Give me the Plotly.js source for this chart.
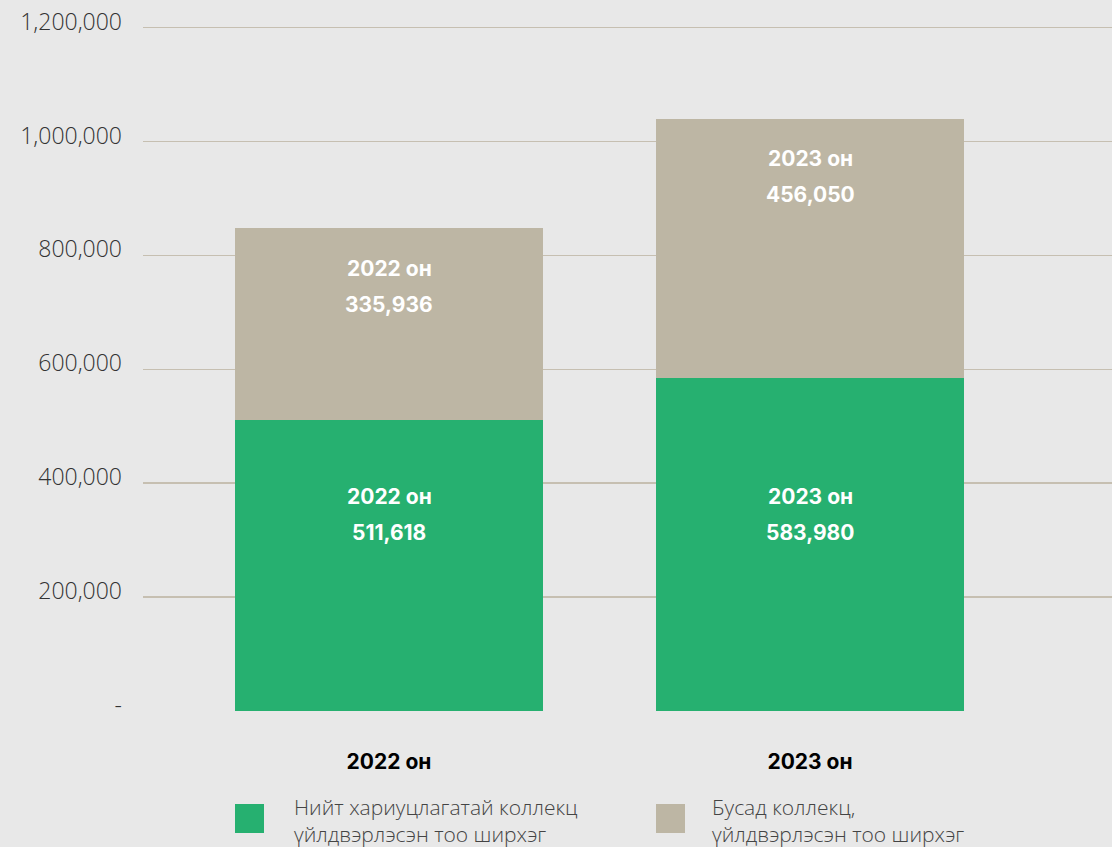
<!DOCTYPE html>
<html>
<head>
<meta charset="utf-8">
<script src="https://cdn.plot.ly/plotly-3.0.1.min.js"></script>
<style>
  html, body { margin: 0; padding: 0; background: #e8e8e8; }
  #chart { width: 1112px; height: 847px; }
</style>
</head>
<body>
<div id="chart"></div>
<script>
// ---- data ----
const categories = ['2022 он', '2023 он'];
const greenValues = [511618, 583980];
const beigeValues = [335936, 456050];
const seriesNames = ['Нийт хариуцлагатай коллекц үйлдвэрлэсэн тоо ширхэг', 'Бусад коллекц, үйлдвэрлэсэн тоо ширхэг'];
const legendLines = [
  ['Нийт хариуцлагатай коллекц', 'үйлдвэрлэсэн тоо ширхэг'],
  ['Бусад коллекц,', 'үйлдвэрлэсэн тоо ширхэг']
];
const yTickVals = [0, 200000, 400000, 600000, 800000, 1000000, 1200000];
const yTickText = ['-', '200,000', '400,000', '600,000', '800,000', '1,000,000', '1,200,000'];

// ---- style ----
const GREEN = '#26b070';
const BEIGE = '#bdb6a4';
const GRID = '#c6bfb1';
const FONT = 'Inter, "Open Sans", "DejaVu Sans", sans-serif';
const LIGHT_FONT = '"Open Sans", Lato, Inter, sans-serif';
const colors = [GREEN, BEIGE];

const fmt = v => v.toLocaleString('en-US');

const traces = [
  { type: 'bar', x: categories, y: greenValues, name: seriesNames[0],
    marker: { color: GREEN, line: { width: 0 } }, width: 0.732, hoverinfo: 'skip', showlegend: false },
  { type: 'bar', x: categories, y: beigeValues, name: seriesNames[1],
    marker: { color: BEIGE, line: { width: 0 } }, width: 0.732, hoverinfo: 'skip', showlegend: false }
];

const PH = 686;   // plot height in px
const BASE = 711; // pixel row of y = 0
const annotations = [];
const labelFont = { family: FONT, size: 21, color: '#ffffff', weight: 700 };
categories.forEach((c, i) => {
  annotations.push({ x: c, xref: 'x', y: (BASE - 496) / PH, yref: 'paper', text: c, showarrow: false, font: labelFont, yanchor: 'middle' });
  annotations.push({ x: c, xref: 'x', y: (BASE - 532) / PH, yref: 'paper', text: fmt(greenValues[i]), showarrow: false, font: labelFont, yanchor: 'middle' });
  const total = greenValues[i] + beigeValues[i];
  annotations.push({ x: c, xref: 'x', y: total, yref: 'y', yshift: -40, text: c, showarrow: false, font: labelFont, yanchor: 'middle' });
  annotations.push({ x: c, xref: 'x', y: total, yref: 'y', yshift: -76, text: fmt(beigeValues[i]), showarrow: false, font: labelFont, yanchor: 'middle' });
});

// custom legend
const shapes = [];
const legendX = [235, 656];
const legendTextX = [292, 710];
legendLines.forEach((lines, i) => {
  shapes.push({ type: 'rect', xref: 'paper', yref: 'paper',
    x0: (legendX[i] - 143) / 969, x1: (legendX[i] + 29 - 143) / 969,
    y0: (BASE - 833) / PH, y1: (BASE - 804) / PH,
    fillcolor: colors[i], line: { width: 0 } });
  lines.forEach((t, j) => {
    annotations.push({ xref: 'paper', yref: 'paper', x: (legendTextX[i] - 143) / 969,
      y: (BASE - (807 + j * 27)) / PH, xanchor: 'left', yanchor: 'middle', text: t, showarrow: false,
      font: { family: LIGHT_FONT, size: 21, color: '#444444', weight: 300 } });
  });
});

const layout = {
  width: 1112, height: 847,
  paper_bgcolor: '#e8e8e8', plot_bgcolor: '#e8e8e8',
  margin: { l: 143, r: 0, t: 25, b: 136 },
  barmode: 'stack',
  showlegend: false,
  xaxis: {
    type: 'category', range: [-0.5843, 1.7173], fixedrange: true,
    showgrid: false, zeroline: false, showline: false, ticks: '',
    ticklabelstandoff: 36,
    tickfont: { family: FONT, size: 21, color: '#000000', weight: 700 }
  },
  yaxis: {
    range: [0, 1204500], fixedrange: true,
    tickvals: yTickVals, ticktext: yTickText,
    showgrid: true, gridcolor: GRID, gridwidth: 1.5,
    zeroline: false, showline: false, ticks: '',
    ticklabelstandoff: 20, ticklabelshift: -6,
    tickfont: { family: LIGHT_FONT, size: 23, color: '#333333', weight: 300 }
  },
  annotations: annotations,
  shapes: shapes
};

Plotly.newPlot('chart', traces, layout, { staticPlot: true, displayModeBar: false });
</script>
</body>
</html>
